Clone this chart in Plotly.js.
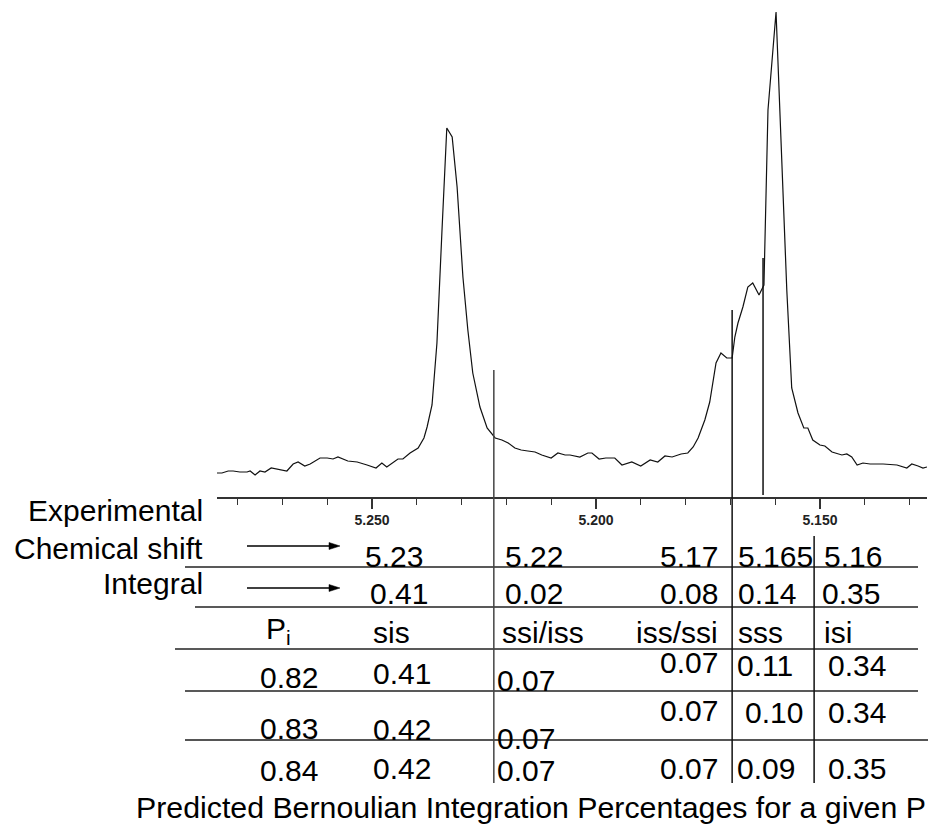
<!DOCTYPE html>
<html>
<head>
<meta charset="utf-8">
<script src="https://cdn.plot.ly/plotly-3.0.1.min.js"></script>
<style>html,body{margin:0;padding:0;background:#fff;}#chart{width:936px;height:826px;}</style>
</head>
<body>
<div id="chart"></div>
<script>
// ---- Spectrum data (chemical shift in ppm, intensity in arbitrary units) ----
const shiftPpm = [5.2846,5.2835,5.2821,5.2810,5.2795,5.2779,5.2772,5.2761,5.2750,5.2739,5.2725,5.2705,5.2690,5.2676,5.2665,5.2650,5.2638,5.2616,5.2600,5.2587,5.2576,5.2554,5.2533,5.2511,5.2491,5.2478,5.2467,5.2442,5.2431,5.2415,5.2397,5.2384,5.2377,5.2366,5.2355,5.2344,5.2333,5.2321,5.2310,5.2297,5.2286,5.2275,5.2259,5.2243,5.2225,5.2210,5.2196,5.2181,5.2167,5.2152,5.2136,5.2121,5.2100,5.2085,5.2069,5.2058,5.2036,5.2018,5.2009,5.1993,5.1978,5.1958,5.1942,5.1920,5.1900,5.1879,5.1862,5.1846,5.1830,5.1810,5.1795,5.1783,5.1772,5.1757,5.1746,5.1732,5.1721,5.1708,5.1696,5.1690,5.1683,5.1672,5.1661,5.1650,5.1636,5.1625,5.1616,5.1598,5.1574,5.1563,5.1549,5.1536,5.1527,5.1516,5.1500,5.1489,5.1473,5.1451,5.1440,5.1429,5.1417,5.1404,5.1388,5.1359,5.1328,5.1306,5.1295,5.1281,5.1270,5.1261];
const intensity = [24,24,26,26,25,25,26,22,26,25,29,27,26,33,35,31,33,39,39,38,40,36,35,32,29,34,30,38,38,44,49,59,70,92,154,264,369,360,310,220,167,124,90,69,59,57,54,49,47,46,45,42,39,44,42,42,40,44,44,38,39,39,32,35,31,37,35,41,40,43,44,50,59,77,95,134,144,139,139,160,174,190,210,214,202,212,387,485,207,109,84,69,69,57,52,51,45,42,43,40,32,34,33,33,32,29,33,31,29,30];

// integration boundary positions (ppm)
const boundaries = [5.2228, 5.1696, 5.1627, 5.1513];

// ---- Table text ----
const rowLabels = ['Experimental', 'Chemical shift', 'Integral'];
const shiftRow = ['5.23', '5.22', '5.17', '5.165', '5.16'];
const integralRow = ['0.41', '0.02', '0.08', '0.14', '0.35'];
const triads = ['sis', 'ssi/iss', 'iss/ssi', 'sss', 'isi'];
const pValues = ['0.82', '0.83', '0.84'];
const predicted = [
  ['0.41', '0.07', '0.07', '0.11', '0.34'],
  ['0.42', '0.07', '0.07', '0.10', '0.34'],
  ['0.42', '0.07', '0.07', '0.09', '0.35']
];
const caption = 'Predicted Bernoulian Integration Percentages for a given P';

// ---- layout helpers (page pixels -> paper fractions) ----
const W = 936, H = 826;
const px = v => v / W;
const py = v => 1 - v / H;
const FONT = 'Liberation Sans, Arial, sans-serif';
const FS = 30;

const annotations = [];
function txt(text, x, y, anchor, size) {
  annotations.push({
    text: text, xref: 'paper', yref: 'paper', x: px(x), y: py(y),
    xanchor: anchor || 'left', yanchor: 'middle', showarrow: false,
    borderpad: 0, borderwidth: 0,
    font: {family: FONT, size: size || FS, color: '#000'}
  });
}
// row labels
txt(rowLabels[0], 203, 510, 'right');
txt(rowLabels[1], 203, 548, 'right');
txt(rowLabels[2], 203, 583, 'right');
// column geometry
const colX = [[365, 'left'], [505, 'left'], [718, 'right'], [738, 'left'], [824, 'left']];
shiftRow.forEach((t, i) => txt(t, colX[i][0], 556, colX[i][1]));
integralRow.forEach((t, i) => txt(t, i === 0 ? 370 : (i === 4 ? 822 : colX[i][0]), 593, colX[i][1]));
txt('P<sub>i</sub>', 266, 630, 'left');
triads.forEach((t, i) => txt(t, i === 0 ? 373 : (i === 1 ? 502 : colX[i][0]), 632, colX[i][1]));
const predX = [[373, 'left'], [497, 'left'], [718, 'right'], [737, 'left'], [828, 'left']];
const predXrow2 = [[373, 'left'], [497, 'left'], [718, 'right'], [745, 'left'], [828, 'left']];
const rowY = [
  [677, 673, 680, 662, 665, 665],
  [728, 729, 738, 710, 712, 712],
  [770, 768, 770, 768, 768, 768]
];
pValues.forEach((p, r) => {
  txt(p, 260, rowY[r][0], 'left');
  const cx = r === 1 ? predXrow2 : predX;
  predicted[r].forEach((t, c) => txt(t, cx[c][0], rowY[r][c + 1], cx[c][1]));
});
txt(caption, 136, 807, 'left', 30.3);

// ---- shapes ----
const shapes = [];
const hline = (y, x0, x1, col, w) => shapes.push({type: 'line', xref: 'paper', yref: 'paper',
  x0: px(x0), x1: px(x1), y0: py(y), y1: py(y), line: {color: col || '#222', width: w || 1.5}});
hline(567, 185, 918);
hline(607, 195, 918);
hline(649, 175, 918);
hline(691, 185, 918);
hline(740, 185, 928, '#555', 2);
// arrows (shaft + filled head)
[546, 588].forEach(y => {
  shapes.push({type: 'line', xref: 'paper', yref: 'paper',
    x0: px(247), x1: px(331), y0: py(y), y1: py(y), line: {color: '#000', width: 1.5}});
  shapes.push({type: 'path', xref: 'paper', yref: 'paper',
    path: 'M' + px(340) + ',' + py(y) + ' L' + px(329) + ',' + py(y - 3.5) + ' L' + px(329) + ',' + py(y + 3.5) + ' Z',
    fillcolor: '#000', line: {color: '#000', width: 0.5}});
});
const vExt = [[370, 783], [310, 783], [258, 495], [536, 783]];
boundaries.forEach((b, i) => shapes.push({type: 'line', xref: 'x', yref: 'paper',
  x0: b, x1: b, y0: py(vExt[i][0]), y1: py(vExt[i][1]), line: {color: i === 0 ? '#444' : '#111', width: 1.5}}));

const trace = {
  x: shiftPpm, y: intensity, type: 'scatter', mode: 'lines',
  line: {color: '#111', width: 1.2}, hoverinfo: 'skip'
};

const layout = {
  width: W, height: H,
  margin: {l: 0, r: 0, t: 0, b: 0},
  paper_bgcolor: '#fff', plot_bgcolor: '#fff',
  showlegend: false,
  xaxis: {
    domain: [px(217), px(927)],
    range: [5.2846, 5.1261],
    anchor: 'y',
    showline: true, linecolor: '#333', linewidth: 1.5,
    showgrid: false, zeroline: false,
    ticks: 'outside', ticklen: 10, tickwidth: 1.5, tickcolor: '#333',
    tick0: 5.15, dtick: 0.05, tickformat: '.3f',
    tickfont: {family: FONT, size: 14, weight: 'bold', color: '#222'},
    minor: {tick0: 5.15, dtick: 0.01, ticks: 'outside', ticklen: 6, tickwidth: 1.2, tickcolor: '#333', showgrid: false},
    fixedrange: true
  },
  yaxis: {
    domain: [py(497), 1],
    range: [0, 497],
    visible: false, showgrid: false, zeroline: false, fixedrange: true
  },
  shapes: shapes,
  annotations: annotations
};

Plotly.newPlot('chart', [trace], layout, {staticPlot: true, displayModeBar: false});
</script>
</body>
</html>
